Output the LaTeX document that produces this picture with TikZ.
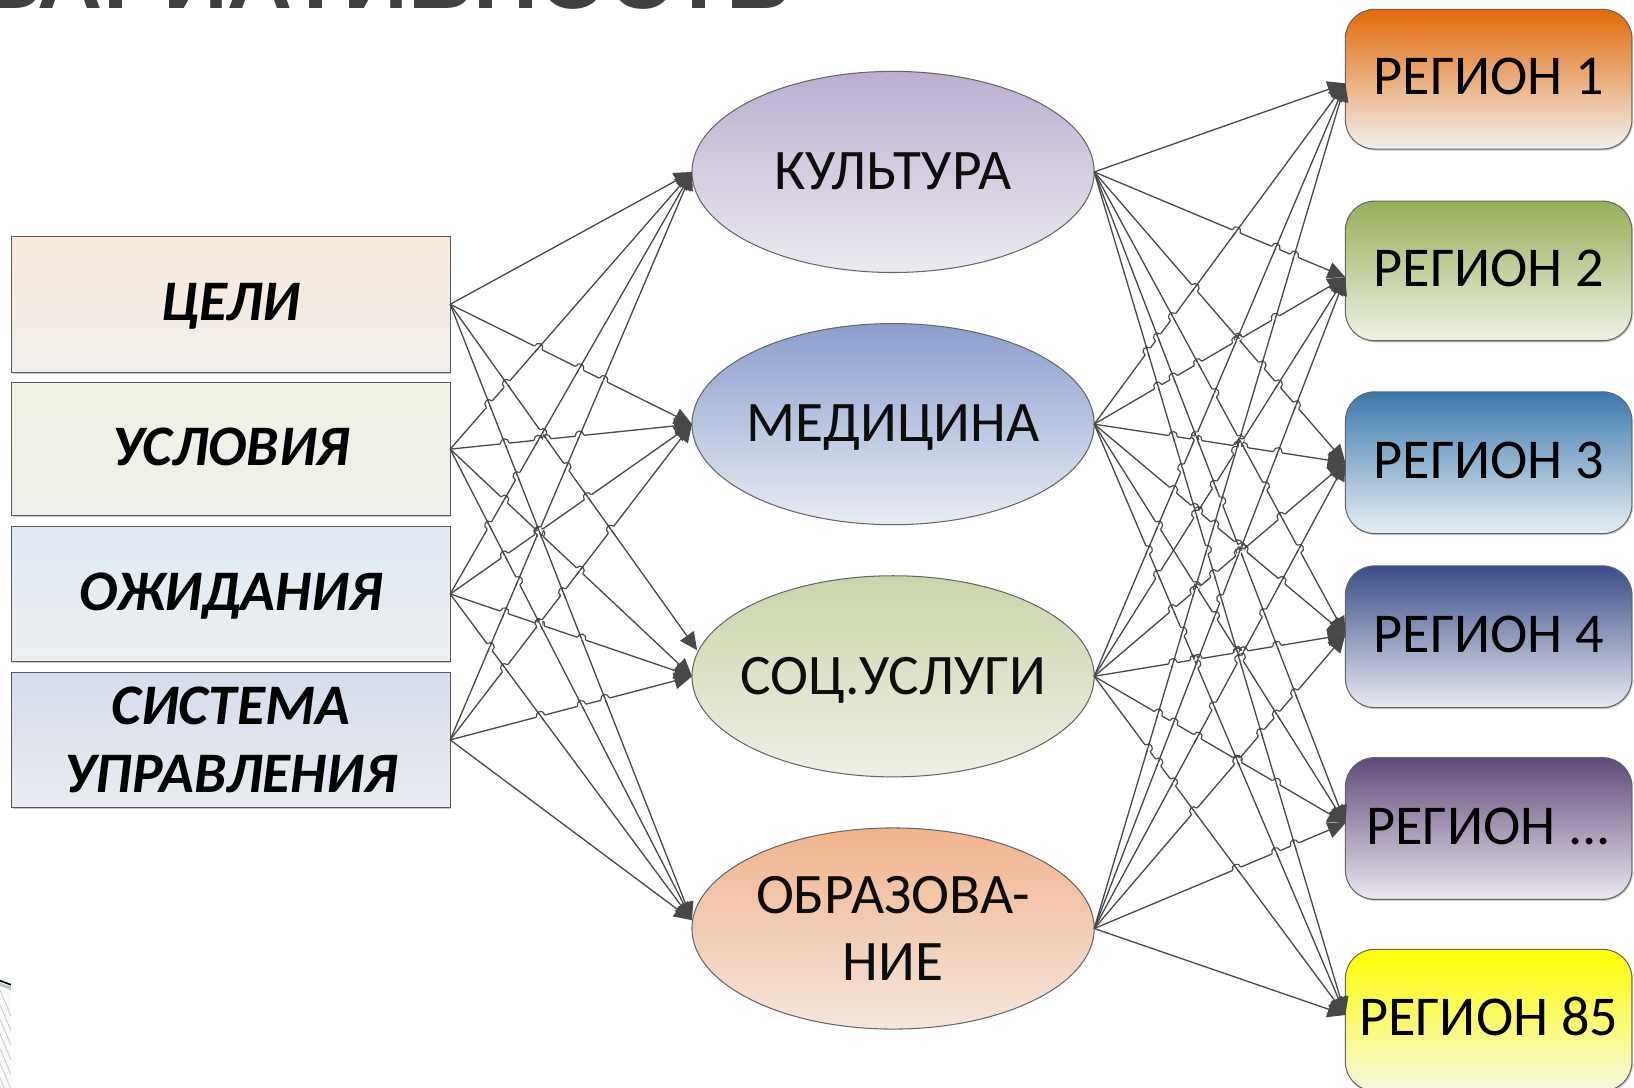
\documentclass[tikz,border=0pt]{standalone}
\usepackage{fontspec}
\setmainfont{Carlito}
\newfontfamily\titlefont{Liberation Sans}[BoldFont={Liberation Sans Bold}]
\usetikzlibrary{arrows.meta,shapes.geometric,shadows}
\definecolor{lineC}{HTML}{484848}
\definecolor{ba}{HTML}{F8E9DD}\definecolor{bb}{HTML}{F0EEEA}
\definecolor{bc}{HTML}{EEF2E3}\definecolor{bd}{HTML}{EEEFEA}
\definecolor{be}{HTML}{E0E9F3}\definecolor{bf}{HTML}{ECEFF1}
\definecolor{bg}{HTML}{D6DCEC}\definecolor{bh}{HTML}{E9ECF0}
\definecolor{ea}{HTML}{BBAED0}\definecolor{eb}{HTML}{ECEAF0}
\definecolor{ec}{HTML}{8A9ECE}\definecolor{ed}{HTML}{E9ECF3}
\definecolor{ee}{HTML}{CAD5A8}\definecolor{ef}{HTML}{EEF0E6}
\definecolor{eg}{HTML}{F0B48C}\definecolor{eh}{HTML}{F5E6DC}
\definecolor{ra}{HTML}{E26B0A}\definecolor{rb}{HTML}{F2F0EE}
\definecolor{rc}{HTML}{98AE58}\definecolor{rd}{HTML}{EEF2E4}
\definecolor{re}{HTML}{3A7AAE}\definecolor{rf}{HTML}{E8EEF3}
\definecolor{rg}{HTML}{3A4D8A}\definecolor{rh}{HTML}{E8E9F0}
\definecolor{ri}{HTML}{60497A}\definecolor{rj}{HTML}{ECE8F0}
\definecolor{rk}{HTML}{FFFF00}\definecolor{rl}{HTML}{F6F6E0}
\tikzset{
  conn/.style={draw=lineC,line width=1.25pt,-{Triangle[length=17pt,width=16pt]}},
  hopline/.style={draw=lineC,line width=1.1pt},
  softshadow/.style={drop shadow={shadow xshift=1pt,shadow yshift=-1.5pt,fill=black!45,opacity=.45}},
  leftbox/.style={draw=black!65,line width=1pt,rectangle,inner sep=0pt,outer sep=0pt,minimum width=421pt,softshadow,
    font=\fontsize{55}{65}\selectfont\bfseries\itshape,align=center,text=black},
  oval/.style={draw=black!60,line width=1pt,ellipse,inner sep=0pt,outer sep=0pt,minimum width=386pt,minimum height=193pt,
    font=\fontsize{55}{64}\selectfont,align=center,text=black!95},
  regbox/.style={draw=black!60,line width=1pt,rectangle,rounded corners=28pt,inner sep=0pt,outer sep=0pt,minimum width=275pt,softshadow,
    font=\fontsize{54}{62}\selectfont,text=black,text height=36pt,text depth=6pt},
  leftone/.style={text height=36pt,text depth=4pt},
  ovalone/.style={text height=36pt,text depth=2pt}
}
\newcommand\oc[1]{\makebox[100pt][c]{#1}}
% numeric copies of the connector ends, used only to find where the connectors cross
\def\leftlines{432/292/664/165,432/292/664/407,432/292/669/624,432/292/664/883,
432/431/664/165,432/431/664/407,432/431/664/649,432/431/664/883,
432/570/664/165,432/570/664/407,432/570/664/649,432/570/664/883,
432/710/664/165,432/710/664/407,432/710/664/649,432/710/664/883}
\def\rightlines{1050/165/1291/80,1050/165/1291/266,1050/165/1291/444,1050/165/1291/609,1050/165/1291/790,1050/165/1291/974,
1050/407/1291/80,1050/407/1291/266,1050/407/1291/444,1050/407/1291/609,1050/407/1291/790,1050/407/1291/974,
1050/649/1291/80,1050/649/1291/266,1050/649/1291/444,1050/649/1291/609,1050/649/1291/790,1050/649/1291/974,
1050/891/1291/80,1050/891/1291/266,1050/891/1291/444,1050/891/1291/609,1050/891/1291/790,1050/891/1291/974}
\newcommand\jumpsfor[1]{%
 \foreach \ax/\ay/\bx/\by [count=\ii] in #1 {%
  \foreach \cx/\cy/\dx/\dy [count=\jj] in #1 {%
   \ifnum\ii=\jj\else
    \pgfmathsetmacro\rx{(\bx-\ax)/100}\pgfmathsetmacro\ry{(\by-\ay)/100}%
    \pgfmathsetmacro\sx{(\dx-\cx)/100}\pgfmathsetmacro\sy{(\dy-\cy)/100}%
    \pgfmathsetmacro\den{\rx*\sy-\ry*\sx}%
    \pgfmathsetmacro\flat{(abs(\ry/\rx)<abs(\sy/\sx))&&(abs(\den)>0.001)?1:0}%
    \ifdim\flat pt>0.5pt
     \pgfmathsetmacro\tt{(((\cx-\ax)/100)*\sy-((\cy-\ay)/100)*\sx)/\den}%
     \pgfmathsetmacro\uu{(((\cx-\ax)/100)*\ry-((\cy-\ay)/100)*\rx)/\den}%
     \pgfmathsetmacro\hit{(\tt>0.03)&&(\tt<0.94)&&(\uu>0.03)&&(\uu<0.94)?1:0}%
     \ifdim\hit pt>0.5pt
      \pgfmathsetmacro\px{\ax+\tt*\rx*100}\pgfmathsetmacro\py{\ay+\tt*\ry*100}%
      \pgfmathsetmacro\LL{sqrt(\rx*\rx+\ry*\ry)}\pgfmathsetmacro\ux{\rx/\LL}\pgfmathsetmacro\uy{\ry/\LL}%
      \pgfmathsetmacro\MM{sqrt(\sx*\sx+\sy*\sy)}\pgfmathsetmacro\vx{\sx/\MM}\pgfmathsetmacro\vy{\sy/\MM}%
      \draw[white,line width=2pt] (\px-4.2*\ux,\py-4.2*\uy) -- (\px+4.2*\ux,\py+4.2*\uy);
      \draw[hopline] (\px-5.5*\vx,\py-5.5*\vy) -- (\px+5.5*\vx,\py+5.5*\vy);
      \draw[hopline] (\px-4.2*\ux,\py-4.2*\uy) .. controls (\px-4.2*\ux+6*\uy,\py-4.2*\uy-6*\ux) and (\px+4.2*\ux+6*\uy,\py+4.2*\uy-6*\ux) .. (\px+4.2*\ux,\py+4.2*\uy);
     \fi
    \fi
   \fi
  }%
 }%
}
\begin{document}
\begin{tikzpicture}[x=1pt,y=-1pt]
\useasboundingbox (0,0) rectangle (1568,1044);
\clip (0,0) rectangle (1568,1044);
\fill[white] (0,0) rectangle (1568,1044);
% title, cut by the top edge
\node[anchor=base west,inner sep=0pt,text=black!75,font=\titlefont\fontsize{86.5}{90}\selectfont\bfseries] (title) at (-22,8) {ВАРИАТИВНОСТЬ};
% corner decoration
\fill[black!2] (0,945) rectangle (10.5,1044);
\foreach \k in {0,...,7}{\draw[black!22,line width=.7pt] (0,950+\k*14) -- (10.5,975+\k*14);}
\fill[cyan!40!black!35] (0,943) -- (10.5,947) -- (10.5,950) -- (0,946) -- cycle;
\draw[black,line width=1.6pt] (0,941) -- (10.5,945);
% left boxes
\node[leftbox,leftone,minimum height=130pt,top color=ba,bottom color=bb] (box1) at (221.5,292) {ЦЕЛИ};
\node[leftbox,leftone,minimum height=128pt,top color=bc,bottom color=bd] (box2) at (221.5,431) {УСЛОВИЯ};
\node[leftbox,leftone,minimum height=130pt,top color=be,bottom color=bf] (box3) at (221.5,570) {ОЖИДАНИЯ};
\node[leftbox,minimum height=130pt,top color=bg,bottom color=bh] (box4) at (221.5,710) {СИСТЕМА\\УПРАВЛЕНИЯ};
% ellipses
\node[oval,ovalone,top color=ea,bottom color=eb] (ell1) at (857,165) {\oc{КУЛЬТУРА}};
\node[oval,ovalone,top color=ec,bottom color=ed] (ell2) at (857,407) {\oc{МЕДИЦИНА}};
\node[oval,ovalone,top color=ee,bottom color=ef] (ell3) at (857,649) {\oc{СОЦ.УСЛУГИ}};
\node[oval,top color=eg,bottom color=eh] (ell4) at (857,891) {\oc{ОБРАЗОВА-}\\\oc{НИЕ}};
% regions
\node[regbox,minimum height=134pt,top color=ra,bottom color=rb] (reg1) at (1428.5,76) {РЕГИОН 1};
\node[regbox,minimum height=134pt,top color=rc,bottom color=rd] (reg2) at (1428.5,260) {РЕГИОН 2};
\node[regbox,minimum height=136pt,top color=re,bottom color=rf] (reg3) at (1428.5,444) {РЕГИОН 3};
\node[regbox,minimum height=136pt,top color=rg,bottom color=rh] (reg4) at (1428.5,611) {РЕГИОН 4};
\node[regbox,minimum height=136pt,top color=ri,bottom color=rj] (reg5) at (1428.5,795) {РЕГИОН ...};
\node[regbox,minimum height=136pt,top color=rk,bottom color=rl] (reg6) at (1428.5,979) {РЕГИОН 85};
% connectors: boxes to ellipses
\foreach \s in {box1,box2,box3,box4}{
  \draw[conn] (\s.east) -- (ell1.west);
  \draw[conn] (\s.east) -- (ell2.west);
  \draw[conn] (\s.east) -- ([yshift=8pt]ell4.west);
}
\draw[conn] (box1.east) -- ([xshift=5pt,yshift=25pt]ell3.west);
\foreach \s in {box2,box3,box4}{\draw[conn] (\s.east) -- (ell3.west);}
% connectors: ellipses to regions
\foreach \s in {ell1,ell2,ell3,ell4}{
  \foreach \t/\dy in {reg1/-4,reg2/-6,reg3/0,reg4/2,reg5/5,reg6/5}{
    \draw[conn] (\s.east) -- ([yshift=\dy pt]\t.west);
  }
}
\jumpsfor{\leftlines}
\jumpsfor{\rightlines}
\end{tikzpicture}
\end{document}
